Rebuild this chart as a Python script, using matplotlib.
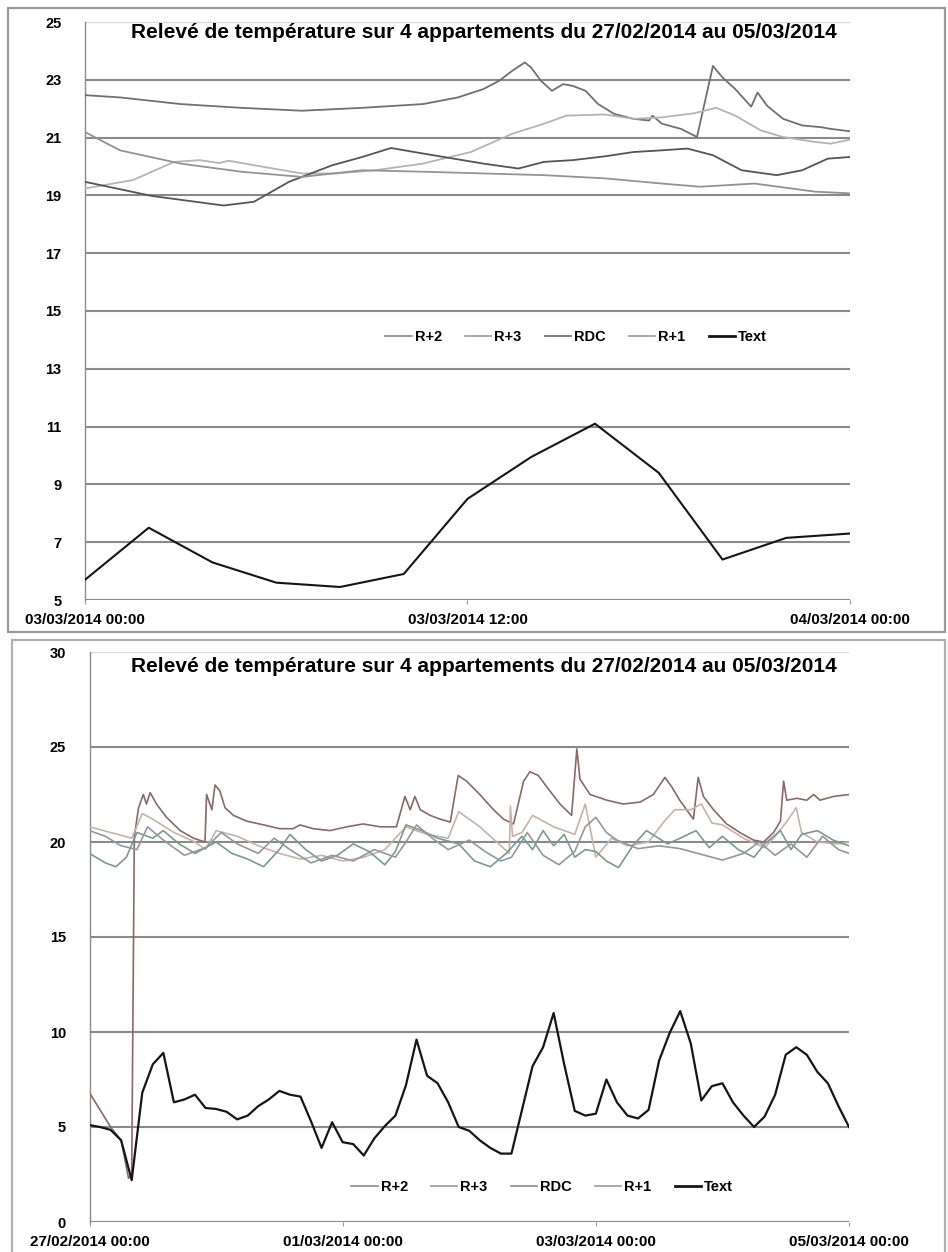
import matplotlib
matplotlib.use("Agg")
import matplotlib.pyplot as plt
from matplotlib.patches import Rectangle
from matplotlib.lines import Line2D

FONT = ["Liberation Sans", "DejaVu Sans"]
plt.rcParams["font.family"] = FONT

TITLE = "Relevé de température sur 4 appartements du 27/02/2014 au 05/03/2014"
SERIES = ["R+2", "R+3", "RDC", "R+1", "Text"]

# ---------------- Bottom chart (27/02/2014 00:00 -> 05/03/2014 00:00), hours ----------------
BOT_TICKS = [0, 48, 96, 144]
BOT_TICK_LABELS = ["27/02/2014 00:00", "01/03/2014 00:00", "03/03/2014 00:00", "05/03/2014 00:00"]

text_hours = list(range(0, 145, 2))
text_vals = [5.1, 5.0, 4.85, 4.3, 2.2, 6.8, 8.3, 8.9, 6.3, 6.45, 6.7, 6.0, 5.95, 5.8, 5.4, 5.6,
             6.1, 6.45, 6.9, 6.7, 6.6, 5.3, 3.9, 5.25, 4.2, 4.1, 3.5, 4.4, 5.05, 5.6, 7.2, 9.6,
             7.7, 7.3, 6.3, 5.0, 4.8, 4.3, 3.9, 3.6, 3.6, 5.9, 8.2, 9.2, 11.0, 8.3, 5.85, 5.6,
             5.7, 7.5, 6.3, 5.6, 5.45, 5.9, 8.5, 9.95, 11.1, 9.4, 6.4, 7.15, 7.3, 6.3, 5.6, 5.0,
             5.55, 6.7, 8.8, 9.2, 8.8, 7.9, 7.3, 6.1, 5.0]

r2_hours = [0, 2, 4, 6, 7.4, 8.0, 8.5, 9.3, 10.2, 10.8, 11.5, 12.7, 14.6, 17.2, 19.7, 21.9, 22.2,
            23.2, 23.8, 24.7, 25.7, 27.3, 29.8, 33.0, 36.1, 38.6, 39.9, 42.4, 45.6, 48.8, 51.9,
            55.1, 58.2, 59.8, 60.8, 61.7, 62.7, 64.6, 66.5, 68.4, 69.9, 71.5, 74.0, 76.6, 78.5,
            80.4, 82.3, 83.5, 85.1, 86.7, 89.2, 91.4, 92.4, 93.0, 94.9, 98.1, 101.2, 104.4,
            106.9, 109.1, 110.4, 111.9, 114.5, 115.4, 116.4, 118.3, 120.8, 123.3, 125.9, 127.8,
            129.7, 131.0, 131.6, 132.2, 134.1, 136.0, 137.3, 138.5, 141.1, 144.0]
r2_vals = [6.8, 5.9, 5.0, 4.3, 2.3, 2.5, 20.3, 21.8, 22.5, 22.0, 22.6, 22.0, 21.3, 20.6, 20.2,
           20.0, 22.5, 21.7, 23.0, 22.7, 21.8, 21.4, 21.1, 20.9, 20.7, 20.7, 20.9, 20.7, 20.6,
           20.8, 20.95, 20.8, 20.8, 22.4, 21.7, 22.4, 21.7, 21.4, 21.2, 21.05, 23.5, 23.2, 22.5,
           21.7, 21.2, 20.95, 23.2, 23.7, 23.5, 22.9, 22.0, 21.4, 24.9, 23.3, 22.5, 22.2, 22.0,
           22.1, 22.5, 23.4, 22.9, 22.2, 21.2, 23.4, 22.4, 21.7, 20.95, 20.5, 20.1, 20.0, 20.5,
           21.1, 23.2, 22.2, 22.3, 22.2, 22.5, 22.2, 22.4, 22.5]

r3_hours = [0, 4, 8, 10, 12, 16, 20, 22, 24, 28, 32, 36, 40, 44, 48, 52, 56, 60, 64, 68, 70, 74,
            78, 79.6, 79.8, 80.2, 82, 84, 88, 92, 94, 96, 99, 102, 106, 109, 111, 114, 116, 118,
            120, 124, 128, 130, 132, 134, 135, 138, 142, 144]
r3_vals = [20.8, 20.5, 20.2, 21.5, 21.2, 20.5, 20.0, 19.6, 20.6, 20.3, 19.8, 19.4, 19.1, 19.3,
           19.0, 19.2, 19.6, 20.8, 20.4, 20.2, 21.6, 20.8, 19.8, 19.4, 21.9, 20.3, 20.5, 21.4,
           20.8, 20.4, 22.0, 19.2, 20.2, 19.8, 20.0, 21.1, 21.7, 21.7, 22.0, 21.0, 20.9, 20.2,
           19.7, 20.3, 21.0, 21.8, 20.5, 20.0, 19.9, 20.0]

rdc_hours = [0, 3, 5, 7, 9, 12, 14, 17, 20, 24, 27, 30, 33, 36, 38, 41, 44, 47, 50, 53, 56, 58,
             60, 63, 66, 70, 73, 76, 79, 82, 84, 86, 88, 90, 92, 94, 96, 98, 100.3, 103, 105.6,
             109.6, 112, 115, 117.5, 120, 123, 126, 128, 131, 133, 135, 138, 141, 144]
rdc_vals = [19.4, 18.9, 18.7, 19.2, 20.5, 20.2, 20.6, 19.9, 19.4, 20.0, 19.4, 19.1, 18.7, 19.6,
            20.4, 19.6, 19.0, 19.3, 19.9, 19.5, 18.8, 19.5, 20.9, 20.6, 20.2, 19.9, 19.0, 18.7,
            19.4, 20.3, 19.6, 20.6, 19.8, 20.4, 19.2, 19.6, 19.5, 19.0, 18.65, 19.8, 20.6, 19.9,
            20.2, 20.6, 19.7, 20.3, 19.6, 19.2, 19.9, 20.6, 19.6, 20.4, 20.6, 20.1, 19.8]

r1_hours = [0, 3, 6, 9, 11, 14, 18, 22, 25, 28, 32, 35, 38, 42, 46, 50, 54, 58, 60, 62, 65, 68,
            72, 75, 78, 80, 83, 86, 89, 92, 94, 96, 98, 100, 104, 108, 112, 116, 120, 124, 127,
            130, 133, 136, 139, 142, 144]
r1_vals = [20.6, 20.3, 19.8, 19.6, 20.8, 20.1, 19.3, 19.7, 20.5, 19.9, 19.4, 20.2, 19.6, 18.9,
           19.3, 19.0, 19.6, 19.2, 20.0, 20.9, 20.2, 19.6, 20.1, 19.5, 19.0, 19.2, 20.5, 19.3,
           18.8, 19.5, 20.8, 21.3, 20.5, 20.1, 19.65, 19.8, 19.65, 19.35, 19.05, 19.4, 20.0,
           19.3, 19.9, 19.2, 20.3, 19.6, 19.4]

# ---------------- Top chart (03/03/2014 00:00 -> 04/03/2014 00:00), hours ----------------
TOP_TICKS = [0, 12, 24]
TOP_TICK_LABELS = ["03/03/2014 00:00", "03/03/2014 12:00", "04/03/2014 00:00"]
TOP_START = 96  # hours after 27/02/2014 00:00

t_r2_hours = [0, 1.1, 3.0, 4.9, 6.8, 8.7, 10.6, 11.7, 12.5, 13.0, 13.4, 13.8, 14.0, 14.3, 14.65,
              15.0, 15.3, 15.7, 16.1, 16.6, 17.2, 17.7, 17.8, 18.1, 18.7, 19.2, 19.7, 20.0, 20.4,
              20.9, 21.1, 21.4, 21.9, 22.5, 23.1, 23.4, 24.0]
t_r2_vals = [22.47, 22.39, 22.16, 22.03, 21.93, 22.03, 22.16, 22.39, 22.68, 22.97, 23.31, 23.6,
             23.42, 22.97, 22.62, 22.85, 22.79, 22.62, 22.16, 21.82, 21.65, 21.59, 21.76, 21.48,
             21.3, 21.02, 23.48, 23.08, 22.68, 22.07, 22.56, 22.1, 21.65, 21.42, 21.36, 21.3,
             21.22]

t_r3_hours = [0, 1.5, 2.8, 3.6, 4.2, 4.5, 5.9, 6.8, 7.9, 9.1, 10.6, 12.1, 13.4, 14.4, 15.1, 16.3,
              17.2, 18.1, 19.1, 19.8, 20.4, 21.2, 21.9, 22.9, 23.4, 24.0]
t_r3_vals = [19.24, 19.53, 20.16, 20.22, 20.12, 20.2, 19.93, 19.76, 19.76, 19.87, 20.1, 20.5,
             21.13, 21.48, 21.76, 21.8, 21.65, 21.7, 21.84, 22.03, 21.76, 21.25, 21.02, 20.85,
             20.79, 20.93]

t_rdc_hours = [0, 2.1, 4.35, 5.3, 6.4, 7.75, 8.7, 9.6, 10.6, 12.5, 13.6, 14.4, 15.3, 16.3, 17.2,
               18.1, 18.9, 19.7, 20.6, 21.7, 22.5, 23.3, 24.0]
t_rdc_vals = [19.47, 18.98, 18.65, 18.78, 19.47, 20.04, 20.33, 20.64, 20.45, 20.1, 19.93, 20.16,
              20.22, 20.35, 20.5, 20.56, 20.62, 20.39, 19.87, 19.7, 19.87, 20.27, 20.33]

t_r1_hours = [0, 1.1, 3.0, 4.9, 6.8, 8.7, 10.6, 12.5, 14.4, 16.3, 18.1, 19.3, 21.0, 22.9, 24.0]
t_r1_vals = [21.19, 20.56, 20.1, 19.82, 19.64, 19.87, 19.82, 19.76, 19.7, 19.59, 19.41, 19.3,
             19.41, 19.13, 19.07]

TOP_COLORS = ["#707070", "#b4b4b4", "#555555", "#939393", "#151515"]
BOT_COLORS = ["#8c6868", "#c6b4a6", "#789c8e", "#9497a0", "#151515"]

W, H = 948, 1252
fig = plt.figure(figsize=(W / 100, H / 100), dpi=100)


def fx(px):
    return px / W


def fy(py):
    return 1 - py / H


# chart frames
fig.patches.append(Rectangle((fx(8), fy(632)), fx(937), 624 / H, transform=fig.transFigure,
                             fill=False, edgecolor="#9a9a9a", lw=1.6, zorder=0))
fig.patches.append(Rectangle((fx(12), fy(1262)), fx(933), 622 / H, transform=fig.transFigure,
                             fill=False, edgecolor="#b0b0b0", lw=1.6, zorder=0))


def style_axes(ax, yticks, grid_vals, faint_vals, xticks, xlabels, ypad, xpad):
    for s in ["top", "right", "bottom"]:
        ax.spines[s].set_visible(False)
    ax.spines["left"].set_color("#8a8a8a")
    ax.spines["left"].set_linewidth(1.0)
    for v in grid_vals:
        ax.axhline(v, color="#8a8a8a", lw=1.5, zorder=1)
    for v in faint_vals:
        ax.axhline(v, color="#d9d9d9", lw=1.0, zorder=1)
    ax.set_yticks(yticks)
    ax.set_yticklabels([str(v) for v in yticks], fontsize=10.5, fontweight="bold")
    ax.tick_params(axis="y", length=0, pad=ypad)
    ax.set_xticks(xticks)
    ax.set_xticklabels(xlabels, fontsize=11, fontweight="bold")
    ax.tick_params(axis="x", length=3, color="#9a9a9a", pad=xpad)


# ---------------- top chart ----------------
ax1 = fig.add_axes([fx(85), fy(600), fx(765), 578 / H])
ax1.set_xlim(0, 24)
ax1.set_ylim(5, 25)
style_axes(ax1, list(range(5, 26, 2)), list(range(5, 24, 2)), [25], TOP_TICKS,
           TOP_TICK_LABELS, 17, 6)

top_text_h = [h - TOP_START for h in text_hours if TOP_START <= h <= TOP_START + 24]
top_text_v = [v for h, v in zip(text_hours, text_vals) if TOP_START <= h <= TOP_START + 24]

top_data = [(t_r2_hours, t_r2_vals), (t_r3_hours, t_r3_vals), (t_rdc_hours, t_rdc_vals),
            (t_r1_hours, t_r1_vals), (top_text_h, top_text_v)]
for (hx, hv), name, col in zip(top_data, SERIES, TOP_COLORS):
    ax1.plot(hx, hv, color=col, lw=1.5 if name == "Text" else 1.3, label=name, zorder=3)

ax1.text(0.522, 0.981, TITLE, transform=ax1.transAxes, ha="center", va="center",
         fontsize=15, fontweight="bold")

# ---------------- bottom chart ----------------
ax2 = fig.add_axes([fx(89.5), fy(1222), fx(759.5), 570 / H])
ax2.set_xlim(0, 144)
ax2.set_ylim(0, 30)
style_axes(ax2, list(range(0, 31, 5)), [0, 5, 10, 15, 20, 25], [30], BOT_TICKS,
           BOT_TICK_LABELS, 17, 6)

bot_data = [(r2_hours, r2_vals), (r3_hours, r3_vals), (rdc_hours, rdc_vals),
            (r1_hours, r1_vals), (text_hours, text_vals)]
for (hx, hv), name, col in zip(bot_data, SERIES, BOT_COLORS):
    ax2.plot(hx, hv, color=col, lw=1.6 if name == "Text" else 1.2, label=name,
             zorder=4 if name == "Text" else 3)

ax2.text(0.519, 0.974, TITLE, transform=ax2.transAxes, ha="center", va="center",
         fontsize=15, fontweight="bold")


def legend(ax, colors, loc_xy):
    handles = [Line2D([], [], color=c, lw=2.0 if n == "Text" else 1.2)
               for n, c in zip(SERIES, colors)]
    ax.legend(handles, SERIES, loc="center", bbox_to_anchor=loc_xy, ncol=5, frameon=False,
              prop={"weight": "bold", "size": 10.5}, handlelength=1.8, handletextpad=0.2,
              columnspacing=1.6)


legend(ax1, ["#8a8a8a", "#9a9a9a", "#6a6a6a", "#9a9a9a", "#151515"], (0.642, 0.455))
legend(ax2, ["#8a8a8a", "#9a9a9a", "#8a8a8a", "#9a9a9a", "#151515"], (0.596, 0.061))

fig.savefig("out.png", dpi=100)
